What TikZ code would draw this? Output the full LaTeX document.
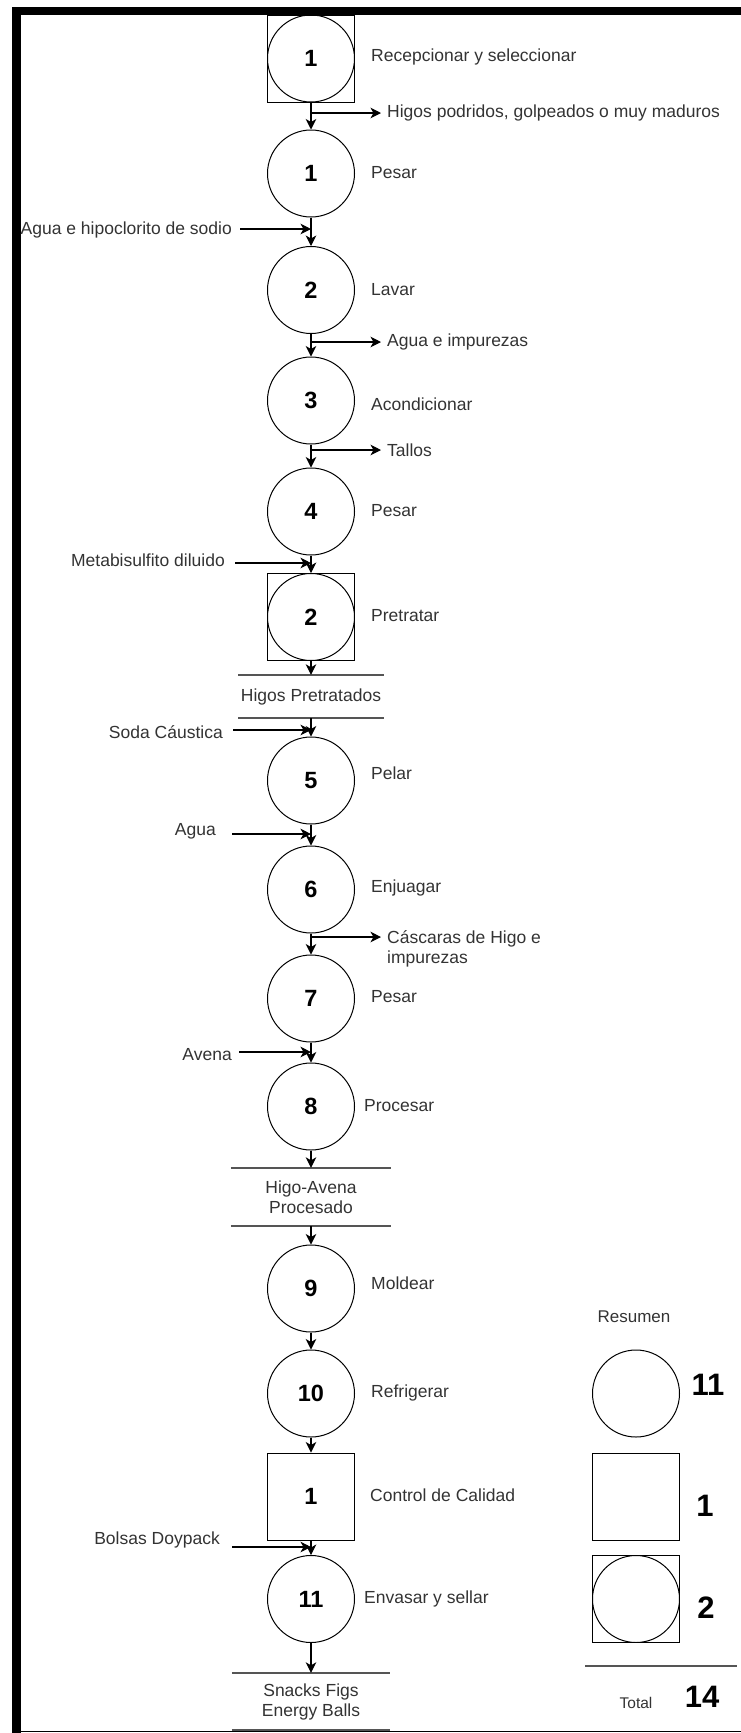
\documentclass[tikz,border=0pt]{standalone}
\usepackage{fontspec}
\setmainfont{Liberation Sans}
\usetikzlibrary{arrows.meta}

\definecolor{labelgray}{HTML}{333333}
\definecolor{storegray}{HTML}{555555}

\tikzset{
  flow/.style={-{Stealth[length=10.5pt,width=10.5pt,inset=3pt]}, line width=1.1pt},
  opcircle/.style={circle, draw, line width=1pt, minimum size=87pt, inner sep=0pt,
    font=\fontsize{23.5}{28}\selectfont\bfseries},
  ctrlbox/.style={rectangle, draw, line width=1pt, minimum size=87pt, inner sep=0pt,
    font=\fontsize{23.5}{28}\selectfont\bfseries},
  inspbox/.style={ctrlbox, path picture={\draw[line width=1pt] (path picture bounding box.center) circle (43.5pt);}},
  steplbl/.style={anchor=west, inner sep=0pt, text=labelgray, font=\fontsize{17.5}{20}\selectfont},
  inlbl/.style={steplbl, anchor=east},
  storebox/.style={minimum width=158pt, inner sep=0pt, align=center, text=labelgray,
    font=\fontsize{17.5}{20}\selectfont},
  storeline/.style={storegray, line width=1.8pt},
  sumnum/.style={inner sep=0pt, font=\fontsize{31}{36}\selectfont\bfseries}
}

\begin{document}
\begin{tikzpicture}[x=1pt, y=-1pt]
  \useasboundingbox (0,0) rectangle (741,1733);

  % Frame
  \draw[line width=9pt] (16.5,7) -- (16.5,1733);
  \draw[line width=8pt] (12,11) -- (741,11);
  \draw[line width=1.2pt] (21,1731.5) -- (741,1731.5);

  % Main column of activities
  \node[inspbox]  (sq1)  at (311,58.5) {1};
  \node[opcircle] (op1)  at (311,173.5) {1};
  \node[opcircle] (op2)  at (311,290) {2};
  \node[opcircle] (op3)  at (311,400.5) {3};
  \node[opcircle] (op4)  at (311,511.5) {4};
  \node[inspbox]  (sq2)  at (311,617) {2};
  \node[storebox, minimum width=145pt, minimum height=43pt] (ds1) at (311,696.5) {Higos Pretratados};
  \node[opcircle] (op5)  at (311,780.5) {5};
  \node[opcircle] (op6)  at (311,889.5) {6};
  \node[opcircle] (op7)  at (311,998.5) {7};
  \node[opcircle] (op8)  at (311,1106.5) {8};
  \node[storebox, minimum width=160pt, minimum height=58pt] (ds2) at (311,1197) {Higo-Avena\\Procesado};
  \node[opcircle] (op9)  at (311,1288.5) {9};
  \node[opcircle] (op10) at (311,1393.5) {10};
  \node[ctrlbox]  (ctl1) at (311,1496.5) {1};
  \node[opcircle] (op11) at (311,1599) {11};
  \node[storebox, minimum height=57pt] (ds3) at (311,1701.5) {Snacks Figs\\Energy Balls};

  % Store bars
  \draw[storeline] (ds1.north west) -- (ds1.north east) (ds1.south west) -- (ds1.south east);
  \draw[storeline] (ds2.north west) -- (ds2.north east) (ds2.south west) -- (ds2.south east);
  \draw[storeline] (ds3.north west) -- (ds3.north east) (ds3.south west) -- (ds3.south east);

  % Step names
  \node[steplbl] (l1)  at (371,57)   {Recepcionar y seleccionar};
  \node[steplbl] (l2)  at (371,173)  {Pesar};
  \node[steplbl] (l3)  at (371,290)  {Lavar};
  \node[steplbl] (l4)  at (371,404)  {Acondicionar};
  \node[steplbl] (l5)  at (371,511)  {Pesar};
  \node[steplbl] (l6)  at (371,616)  {Pretratar};
  \node[steplbl] (l7)  at (371,773)  {Pelar};
  \node[steplbl] (l8)  at (371,888)  {Enjuagar};
  \node[steplbl] (l9)  at (371,997)  {Pesar};
  \node[steplbl] (l10) at (364,1106) {Procesar};
  \node[steplbl] (l11) at (371,1283) {Moldear};
  \node[steplbl] (l12) at (371,1393) {Refrigerar};
  \node[steplbl] (l13) at (370,1495) {Control de Calidad};
  \node[steplbl] (l14) at (364,1599) {Envasar y sellar};

  % Main flow
  \draw[flow] (sq1) -- (op1);
  \draw[flow] (op1) -- (op2);
  \draw[flow] (op2) -- (op3);
  \draw[flow] (op3) -- (op4);
  \draw[flow] (op4) -- (sq2);
  \draw[flow] (sq2) -- (ds1);
  \draw[flow] (ds1) -- (op5);
  \draw[flow] (op5) -- (op6);
  \draw[flow] (op6) -- (op7);
  \draw[flow] (op7) -- (op8);
  \draw[flow] (op8) -- (ds2);
  \draw[flow] (ds2) -- (op9);
  \draw[flow] (op9) -- (op10);
  \draw[flow] (op10) -- (ctl1);
  \draw[flow] (ctl1) -- (op11);
  \draw[flow] (op11) -- (ds3);

  % Outputs to the right
  \coordinate (out1) at (381,113);
  \coordinate (out2) at (381,342);
  \coordinate (out3) at (381,450);
  \coordinate (out4) at (381,937);
  \draw[flow] (out1 -| op1) -- (out1);
  \draw[flow] (out2 -| op2) -- (out2);
  \draw[flow] (out3 -| op3) -- (out3);
  \draw[flow] (out4 -| op6) -- (out4);
  \node[steplbl] (o1) at (387,113) {Higos podridos, golpeados o muy maduros};
  \node[steplbl] (o2) at (387,342) {Agua e impurezas};
  \node[steplbl] (o3) at (387,450) {Tallos};
  \node[steplbl, anchor=north west, align=left] (o4) at (387,930) {Cáscaras de Higo e\\impurezas};

  % Inputs from the left
  \coordinate (in1) at (240,229);
  \coordinate (in2) at (235,563);
  \coordinate (in3) at (233,730);
  \coordinate (in4) at (232,834);
  \coordinate (in5) at (239,1052);
  \coordinate (in6) at (232,1547);
  \draw[flow] (in1) -- (in1 -| op1);
  \draw[flow] (in2) -- (in2 -| op4);
  \draw[flow] (in3) -- (in3 -| op5);
  \draw[flow] (in4) -- (in4 -| op5);
  \draw[flow] (in5) -- (in5 -| op7);
  \draw[flow] (in6) -- (in6 -| op11);
  \node[inlbl] (i1) at (232,230)  {Agua e hipoclorito de sodio};
  \node[inlbl] (i2) at (225,560)  {Metabisulfito diluido};
  \node[inlbl] (i3) at (223,732)  {Soda Cáustica};
  \node[inlbl] (i4) at (216,831)  {Agua};
  \node[inlbl] (i5) at (232,1055) {Avena};
  \node[inlbl] (i6) at (220,1540) {Bolsas Doypack};

  % Summary
  \node[storebox, minimum width=0pt, font=\fontsize{17}{20}\selectfont] (res) at (634,1317) {Resumen};
  \node[opcircle] (sumop)  at (636,1393.5) {};
  \node[ctrlbox]  (sumctl) at (636,1496.5) {};
  \node[inspbox]  (sumins) at (636,1599) {};
  \node[sumnum] (n1) at (708,1385) {11};
  \node[sumnum] (n2) at (705,1506) {1};
  \node[sumnum] (n3) at (706,1608) {2};
  \draw[storegray, line width=1.5pt] (585,1666) -- (737,1666);
  \node[storebox, minimum width=0pt, font=\fontsize{15.5}{18}\selectfont] (tot) at (636,1703) {Total};
  \node[sumnum] (n4) at (702,1697) {14};
\end{tikzpicture}
\end{document}
